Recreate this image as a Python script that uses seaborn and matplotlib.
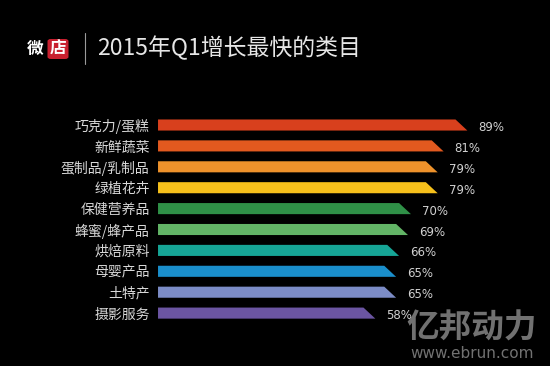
import matplotlib
matplotlib.use("Agg")
import matplotlib.pyplot as plt
from matplotlib.patches import Polygon, FancyBboxPatch
import seaborn as sns
import pandas as pd

categories = ["巧克力/蛋糕", "新鲜蔬菜", "蛋制品/乳制品", "绿植花卉", "保健营养品",
              "蜂蜜/蜂产品", "烘焙原料", "母婴产品", "土特产", "摄影服务"]
values = [89, 81, 79, 79, 70, 69, 66, 65, 65, 58]
value_labels = ["89%", "81%", "79%", "79%", "70%", "69%", "66%", "65%", "65%", "58%"]
colors = ["#d8401d", "#e2591f", "#ee922b", "#f6c01b", "#2f9047",
          "#62b466", "#16a596", "#1a8ecb", "#7c8cc6", "#6b55a2"]
title = "2015年Q1增长最快的类目"

sns.set_theme(style="white")
plt.rcParams['font.family'] = ['Noto Sans CJK SC', 'DejaVu Sans']

df = pd.DataFrame({"cat": categories, "val": values})

fig = plt.figure(figsize=(5.5, 3.66), dpi=100, facecolor="black")
ax = fig.add_axes([0.2873, 0.116, 0.6618, 0.571])
ax.set_facecolor("black")
sns.barplot(data=df, y="cat", x="val", hue="cat", palette=colors, legend=False,
            orient="h", width=0.53, saturation=1, ax=ax)
xmin, xmax = -15.2, 107.4
ax.set_xlim(xmin, xmax)
ax.set_ylim(9.5, -0.5)

slant = 4.0
for p, v, lab in zip(list(ax.patches), values, value_labels):
    y0 = p.get_y()
    h = p.get_height()
    col = p.get_facecolor()
    p.set_visible(False)
    poly = Polygon([(xmin, y0), (v - slant, y0), (v, y0 + h), (xmin, y0 + h)],
                   closed=True, facecolor=col, edgecolor="none")
    ax.add_patch(poly)
    ax.text(v + 3.7, y0 + h / 2 + 0.12, lab, color="#d0d0d0", fontsize=8.5,
            va="center", ha="left", family=['DejaVu Sans'])

for s in ax.spines.values():
    s.set_visible(False)
ax.set_xticks([])
ax.set_xlabel("")
ax.set_ylabel("")
ax.tick_params(axis="y", length=0, pad=6, labelsize=10, labelcolor="#d8d8d8")

# header
fig.text(27 / 550, 1 - 49 / 366, "微", color="white", fontsize=12, fontweight="bold",
         va="center", ha="left")
box = FancyBboxPatch((47.5 / 550, 1 - 59 / 366), 21 / 550, 20 / 366,
                     boxstyle="round,pad=0,rounding_size=0.006",
                     transform=fig.transFigure, facecolor="#c8202f", edgecolor="none")
fig.patches.append(box)
fig.text(58 / 550, 1 - 49 / 366, "店", color="white", fontsize=12, fontweight="bold",
         va="center", ha="center")
fig.add_artist(plt.Line2D([85 / 550, 85 / 550], [1 - 33 / 366, 1 - 64 / 366],
                          color="#9a9a9a", lw=0.8, transform=fig.transFigure))
fig.text(97 / 550, 1 - 48 / 366, title, color="#e6e6e6", fontsize=16.5,
         fontweight="light", va="center", ha="left")

# watermark
fig.text(406 / 550, 1 - 328 / 366, "亿邦动力", color="#7e7e7e", fontsize=23.5,
         fontweight="bold", va="center", ha="left", alpha=0.9)
fig.text(410 / 550, 1 - 353 / 366, "www.ebrun.com", color="#7e7e7e", fontsize=11,
         va="center", ha="left", alpha=0.9, family=['DejaVu Sans'])

fig.savefig("out.png", dpi=100, facecolor="black")
